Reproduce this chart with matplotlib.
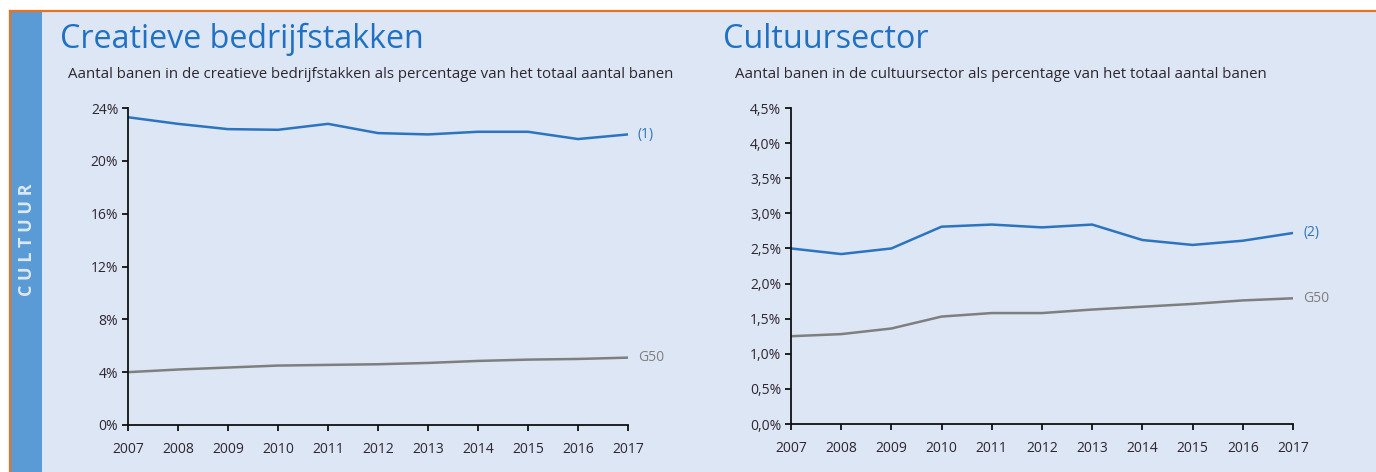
import matplotlib.pyplot as plt
from matplotlib.patches import Rectangle
from matplotlib.ticker import FuncFormatter

years = list(range(2007, 2018))

# creatieve bedrijfstakken, % van totaal aantal banen
creatief_1 = [23.3, 22.8, 22.4, 22.35, 22.8, 22.1, 22.0, 22.2, 22.2, 21.65, 22.0]
creatief_g50 = [4.0, 4.2, 4.35, 4.5, 4.55, 4.6, 4.7, 4.85, 4.95, 5.0, 5.1]

# cultuursector, % van totaal aantal banen
cultuur_2 = [2.50, 2.42, 2.50, 2.81, 2.84, 2.80, 2.84, 2.62, 2.55, 2.61, 2.72]
cultuur_g50 = [1.25, 1.28, 1.36, 1.53, 1.58, 1.58, 1.63, 1.67, 1.71, 1.76, 1.79]

BLUE = '#2c74c0'
GREY = '#7f7f7f'
BG = '#dde6f4'
TXT = '#2e2630'

plt.rcParams['font.family'] = ['Open Sans', 'DejaVu Sans']

fig = plt.figure(figsize=(13.76, 4.72), dpi=100)
fig.patch.set_facecolor('white')

# achtergrond, kader en zijbalk
fig.add_artist(Rectangle((42/1376, 0), 1, 1 - 12/472, transform=fig.transFigure,
                         facecolor=BG, edgecolor='none', zorder=0))
fig.add_artist(Rectangle((11/1376, 0), 31/1376, 1 - 12/472, transform=fig.transFigure,
                         facecolor='#5b9bd5', edgecolor='none', zorder=0))
fig.add_artist(plt.Line2D([10/1376, 1], [1 - 11/472, 1 - 11/472], transform=fig.transFigure,
                          color='#e8731e', lw=1.6, zorder=1))
fig.add_artist(plt.Line2D([10/1376, 10/1376], [0, 1 - 11/472], transform=fig.transFigure,
                          color='#e8731e', lw=1.6, zorder=1))
fig.text(27/1376, 1 - 240/472, 'C U L T U U R', rotation=90, ha='center', va='center',
         color='#dce8f6', fontsize=13, fontweight='bold')


def pct_int(v, pos):
    return f'{v:.0f}%'


def pct_comma(v, pos):
    return f'{v:.1f}%'.replace('.', ',')


def panel(rect, y1, yg, ticks, fmt, lab1, title, subtitle, tx, sx):
    ax = fig.add_axes(rect)
    ax.set_facecolor('none')
    ax.plot(years, y1, color=BLUE, lw=1.8, solid_joinstyle='round')
    ax.plot(years, yg, color=GREY, lw=1.8, solid_joinstyle='round')
    ax.set_xlim(2007, 2017)
    ax.set_ylim(ticks[0], ticks[-1])
    ax.set_xticks(years)
    ax.set_yticks(ticks)
    ax.yaxis.set_major_formatter(FuncFormatter(fmt))
    for s in ('top', 'right'):
        ax.spines[s].set_visible(False)
    for s in ('left', 'bottom'):
        ax.spines[s].set_color('#111111')
        ax.spines[s].set_linewidth(1.3)
    ax.tick_params(length=4, width=1.3, color='#111111', labelsize=10,
                   labelcolor=TXT)
    ax.tick_params(axis='x', pad=8)
    ax.tick_params(axis='y', pad=3)
    for lbl in ax.get_xticklabels() + ax.get_yticklabels():
        lbl.set_fontweight('medium')
    ax.text(2017.2, y1[-1], lab1, color=BLUE, fontsize=10, va='center', ha='left')
    ax.text(2017.2, yg[-1], 'G50', color=GREY, fontsize=10, va='center', ha='left')
    fig.text(tx/1376, 1 - 39/472, title, color='#2071c4', fontsize=23.2, va='center')
    fig.text(sx/1376, 1 - 75/472, subtitle, color=TXT, fontsize=10.8, va='center')
    return ax


panel([128/1376, 1 - 425/472, 500/1376, 317/472], creatief_1, creatief_g50,
      [0, 4, 8, 12, 16, 20, 24], pct_int, '(1)',
      'Creatieve bedrijfstakken',
      'Aantal banen in de creatieve bedrijfstakken als percentage van het totaal aantal banen',
      60, 68)

panel([791/1376, 1 - 424/472, 502/1376, 316/472], cultuur_2, cultuur_g50,
      [0, 0.5, 1, 1.5, 2, 2.5, 3, 3.5, 4, 4.5], pct_comma, '(2)',
      'Cultuursector',
      'Aantal banen in de cultuursector als percentage van het totaal aantal banen',
      723, 735)

fig.savefig('out.png', dpi=100, facecolor=fig.get_facecolor())
